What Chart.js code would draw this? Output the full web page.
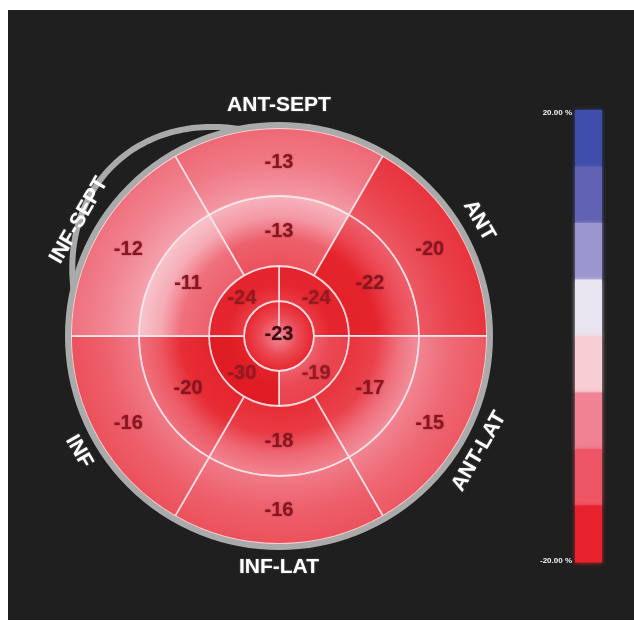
<!DOCTYPE html>
<html>
<head>
<meta charset="utf-8">
<script src="https://cdn.jsdelivr.net/npm/chart.js@4/dist/chart.umd.min.js"></script>
<style>
  html, body { margin: 0; padding: 0; background: #ffffff; }
  #wrap { position: relative; width: 634px; height: 621px; }
  canvas { display: block; }
</style>
</head>
<body>
<div id="wrap"><canvas id="bullseye" width="634" height="621"></canvas></div>
<script>
// Longitudinal strain per segment (%), clockwise starting at the anteroseptal wall
const wallNames = ['ANT-SEPT', 'ANT', 'ANT-LAT', 'INF-LAT', 'INF', 'INF-SEPT'];
const basalStrain = [-13, -20, -15, -16, -16, -12];
const midStrain = [-13, -22, -17, -18, -20, -11];
// apical ring, clockwise starting at 12 o'clock
const apicalStrain = [-24, -19, -30, -24];
const apexStrain = [-23];
// colour scale limits and its end labels
const scaleMax = 20;
const scaleMin = -20;
const scaleTickLabels = ['20.00 %', '-20.00 %'];

// ---- styling ----
const BAND_COLORS = [
  [62, 78, 170], [98, 98, 180], [155, 150, 205], [232, 228, 240],
  [248, 205, 212], [240, 130, 148], [238, 85, 100], [232, 35, 45]
];
const STRAIN_STOPS = [
  [-32, [222, 26, 34]], [-24, [230, 38, 46]], [-20, [234, 66, 76]],
  [-17, [236, 88, 99]], [-14, [239, 112, 125]], [-11, [242, 142, 155]],
  [-7, [246, 180, 190]], [-3, [250, 212, 219]], [0, [242, 230, 238]],
  [5, [200, 195, 225]], [10, [150, 150, 205]], [15, [98, 98, 180]], [20, [62, 78, 170]]
];
function strainColor(v) {
  if (v <= STRAIN_STOPS[0][0]) return 'rgb(' + STRAIN_STOPS[0][1].join(',') + ')';
  for (let i = 1; i < STRAIN_STOPS.length; i++) {
    const [v1, c1] = STRAIN_STOPS[i];
    const [v0, c0] = STRAIN_STOPS[i - 1];
    if (v <= v1) {
      const t = (v - v0) / (v1 - v0);
      const c = c0.map((x, k) => Math.round(x + (c1[k] - x) * t));
      return 'rgb(' + c.join(',') + ')';
    }
  }
  return 'rgb(' + STRAIN_STOPS[STRAIN_STOPS.length - 1][1].join(',') + ')';
}

// radial shading per ring: [position, offset in strain units]
const RING_SHADING = [
  [[0, 3], [0.5, 0], [1, -2]],              // basal
  [[0, -5], [0.4, -3], [0.7, 3], [1, 6]],   // mid
  [[0, 3], [0.45, 0], [1, -1]],             // apical
  [[0, 12], [0.55, 4], [1, -1]]             // apex
];

function segmentStrain(chart, di, i) {
  return chart.data.datasets[di].strain[i];
}

function segmentFill(context) {
  const chart = context.chart;
  const v = segmentStrain(chart, context.datasetIndex, context.dataIndex);
  const area = chart.chartArea;
  if (!area) return strainColor(v);
  const ctrl = chart.getDatasetMeta(context.datasetIndex).controller;
  const inner = ctrl.innerRadius, outer = ctrl.outerRadius;
  if (!(outer > 0)) return strainColor(v);
  const cx = (area.left + area.right) / 2;
  const cy = (area.top + area.bottom) / 2;
  const g = chart.ctx.createRadialGradient(cx, cy, inner, cx, cy, outer);
  RING_SHADING[context.datasetIndex].forEach(([pos, dv]) => {
    g.addColorStop(pos, strainColor(Math.min(v + dv, -1)));
  });
  return g;
}

const ringWeights = [68, 70, 35, 35]; // basal, mid, apical, apex thickness (px)
const RIM_R = 208;

const decor = {
  id: 'bullseyeDecor',
  beforeDraw(chart) {
    const { ctx, width, height } = chart;
    ctx.save();
    ctx.fillStyle = '#ffffff';
    ctx.fillRect(0, 0, width, height);
    ctx.fillStyle = '#1f1f1f';
    ctx.fillRect(8, 10, width - 8, 610);
    ctx.restore();
  },
  afterDatasetsDraw(chart) {
    const { ctx, chartArea } = chart;
    const cx = (chartArea.left + chartArea.right) / 2;
    const cy = (chartArea.top + chartArea.bottom) / 2;
    ctx.save();

    // grey rim around the basal ring
    ctx.beginPath();
    ctx.arc(cx, cy, RIM_R + 3, 0, Math.PI * 2);
    ctx.lineWidth = 6;
    ctx.strokeStyle = '#aaaaaa';
    ctx.stroke();

    // detached rim arc on the infero-septal side
    ctx.beginPath();
    for (let d = 101; d <= 167; d += 1) {
      const th = d * Math.PI / 180;
      const r = RIM_R + 3 + 27 * Math.sin(Math.PI * (d - 101) / 66);
      const x = cx + r * Math.cos(th);
      const y = cy - r * Math.sin(th);
      if (d === 101) ctx.moveTo(x, y); else ctx.lineTo(x, y);
    }
    ctx.lineWidth = 6;
    ctx.lineCap = 'round';
    ctx.strokeStyle = '#aaaaaa';
    ctx.stroke();

    // segment values
    ctx.textAlign = 'center';
    ctx.textBaseline = 'middle';
    ctx.font = 'bold 20px "Liberation Sans", Arial, sans-serif';
    ctx.shadowColor = 'rgba(110,0,10,0.45)';
    ctx.shadowBlur = 2;
    chart.data.datasets.forEach((ds, di) => {
      const meta = chart.getDatasetMeta(di);
      meta.data.forEach((arc, i) => {
        let p;
        if (di === 3) p = { x: arc.x, y: arc.y - 2 };
        else p = arc.getCenterPoint();
        ctx.fillStyle = di === 3 ? '#3c0c16' : (di === 2 ? '#941a22' : '#861622');
        ctx.fillText(String(segmentStrain(chart, di, i)), p.x, p.y);
      });
    });

    // wall names around the rim
    ctx.shadowColor = 'rgba(255,255,255,0.35)';
    ctx.shadowBlur = 2;
    ctx.fillStyle = '#ffffff';
    ctx.font = 'bold 21px "Liberation Sans", Arial, sans-serif';
    const basal = chart.getDatasetMeta(0).data;
    basal.forEach((arc, i) => {
      const a = (arc.startAngle + arc.endAngle) / 2;
      const R = RIM_R + 23;
      const x = cx + R * Math.cos(a);
      const y = cy + R * Math.sin(a);
      const rot = Math.sin(a) < 0 ? a + Math.PI / 2 : a - Math.PI / 2;
      ctx.save();
      ctx.translate(x, y);
      ctx.rotate(rot);
      ctx.fillText(chart.data.labels[i], 0, 0);
      ctx.restore();
    });

    // colour scale bar
    const bx = 575, bw = 27, by = 110, bh = 452;
    const n = BAND_COLORS.length;
    const step = bh / n;
    BAND_COLORS.forEach((c, k) => {
      ctx.shadowColor = 'rgba(' + c.join(',') + ',0.9)';
      ctx.shadowBlur = 4;
      ctx.fillStyle = 'rgb(' + c.join(',') + ')';
      ctx.fillRect(bx, by + k * step, bw, step + 0.5);
    });
    ctx.shadowBlur = 0;
    ctx.fillStyle = '#f4f4f4';
    ctx.font = 'bold 8px "Liberation Sans", Arial, sans-serif';
    ctx.textAlign = 'right';
    ctx.fillText(scaleTickLabels[0], 572, by + 3);
    ctx.fillText(scaleTickLabels[1], 572, by + bh - 1);
    ctx.restore();
  }
};

const ringCommon = {
  backgroundColor: segmentFill,
  borderColor: 'rgba(255,236,240,0.8)',
  borderWidth: 1.8
};

// every segment spans an equal angle; its colour and label come from the strain value
function ring(strain, weight, rotation) {
  return Object.assign({
    data: strain.map(() => 1),
    strain: strain,
    weight: weight,
    rotation: rotation
  }, ringCommon);
}

new Chart(document.getElementById('bullseye'), {
  type: 'doughnut',
  data: {
    labels: wallNames,
    datasets: [
      ring(basalStrain, ringWeights[0], -30),
      ring(midStrain, ringWeights[1], -30),
      ring(apicalStrain, ringWeights[2], 0),
      ring(apexStrain, ringWeights[3], 0)
    ]
  },
  options: {
    responsive: false,
    animation: false,
    events: [],
    cutout: 0,
    radius: RIM_R,
    layout: { padding: { left: 49, right: 125, top: 106, bottom: 55 } },
    plugins: { legend: { display: false }, tooltip: { enabled: false } }
  },
  plugins: [decor]
});
</script>
</body>
</html>
